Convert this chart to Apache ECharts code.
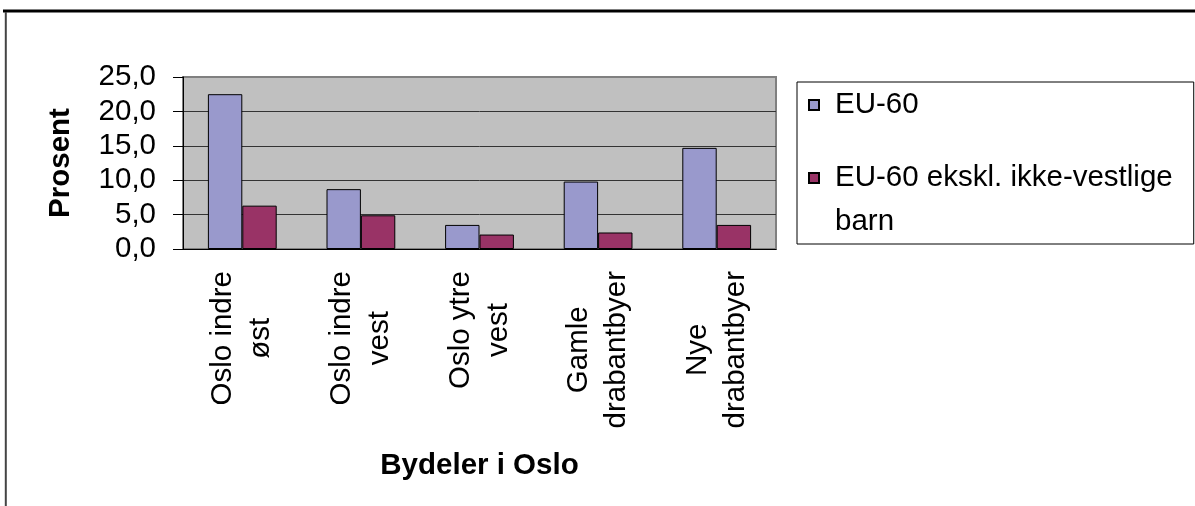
<!DOCTYPE html>
<html>
<head>
<meta charset="utf-8">
<script src="https://cdn.jsdelivr.net/npm/echarts@6/dist/echarts.min.js"></script>
<style>
  html, body { margin: 0; padding: 0; background: #fff; }
  #chart { width: 1195px; height: 506px; }
</style>
</head>
<body>
<div id="chart"></div>
<script>
// data
var categories = ["Oslo indre\nøst", "Oslo indre\nvest", "Oslo ytre\nvest", "Gamle\ndrabantbyer", "Nye\ndrabantbyer"];
var seriesNames = ["EU-60", "EU-60 ekskl. ikke-vestlige barn"];
var eu60 = [22.5, 8.7, 3.5, 9.8, 14.7];
var eu60Ekskl = [6.3, 4.9, 2.1, 2.4, 3.5];
var yTicks = [0, 5, 10, 15, 20, 25];

var FONT = "'Liberation Sans', Arial, sans-serif";
var FS = 29.5;

var chart = echarts.init(document.getElementById("chart"));

var option = {
  backgroundColor: "#fff",
  animation: false,
  graphic: [
    { type: "line", shape: { x1: 3, y1: 11, x2: 1195, y2: 11 }, style: { stroke: "#000", lineWidth: 3 } },
    { type: "line", shape: { x1: 5.8, y1: 12, x2: 5.8, y2: 506 }, style: { stroke: "#444", lineWidth: 2 } }
  ],
  grid: {
    left: 183, top: 77, right: 419, bottom: 257,
    show: true, backgroundColor: "#C0C0C0", borderColor: "#808080", borderWidth: 2
  },
  legend: {
    orient: "vertical",
    left: 797, top: 82,
    padding: [8, 21, 7, 11],
    itemWidth: 10, itemHeight: 10, itemGap: -1,
    icon: "rect",
    borderColor: "#000", borderWidth: 1,
    formatter: function (name) {
      // first line sits level with the marker, the wrapped part hangs below
      if (name === seriesNames[1]) {
        return "{s| }\n{t|EU-60 ekskl. ikke-vestlige}\n{t|barn}";
      }
      return "{t|" + name + "}";
    },
    textStyle: {
      fontSize: FS, fontFamily: FONT, color: "#000",
      rich: {
        t: { fontSize: FS, fontFamily: FONT, color: "#000", lineHeight: 44, padding: [0, 0, 0, 11] },
        s: { fontSize: FS, lineHeight: 44 }
      }
    },
    data: seriesNames
  },
  xAxis: {
    type: "category",
    data: categories,
    name: "Bydeler i Oslo",
    nameLocation: "middle",
    nameGap: 202,
    nameTextStyle: { fontSize: FS, fontWeight: "bold", fontFamily: FONT, color: "#000" },
    axisLine: { lineStyle: { color: "#000", width: 1 } },
    axisTick: { length: 9, lineStyle: { color: "#000" } },
    axisLabel: {
      rotate: 90,
      interval: 0,
      margin: 22,
      color: "#000",
      formatter: function (v) {
        return v.split("\n").map(function (s) { return "{c|" + s + "}"; }).join("\n");
      },
      rich: { c: { align: "center", fontSize: FS, fontFamily: FONT, lineHeight: 38, color: "#000" } }
    }
  },
  yAxis: {
    type: "value",
    min: yTicks[0], max: yTicks[yTicks.length - 1], interval: 5,
    name: "Prosent",
    nameLocation: "middle",
    nameGap: 107,
    nameTextStyle: { fontSize: FS, fontWeight: "bold", fontFamily: FONT, color: "#000" },
    axisLine: { show: true, lineStyle: { color: "#000", width: 1 } },
    axisTick: { show: true, length: 10, lineStyle: { color: "#000" } },
    axisLabel: {
      margin: 27,
      fontSize: FS, fontFamily: FONT, color: "#000",
      formatter: function (v) { return v.toFixed(1).replace(".", ","); }
    },
    splitLine: { lineStyle: { color: ["#000", "#333", "#333", "#333", "#333", "#808080"], width: 1 } }
  },
  series: [
    {
      name: seriesNames[0], type: "bar", data: eu60,
      barGap: "0%", barCategoryGap: "42%",
      itemStyle: { color: "#9999CC", borderColor: "#000", borderWidth: 1 }
    },
    {
      name: seriesNames[1], type: "bar", data: eu60Ekskl,
      itemStyle: { color: "#993366", borderColor: "#000", borderWidth: 1 }
    }
  ]
};

chart.setOption(option);
</script>
</body>
</html>
